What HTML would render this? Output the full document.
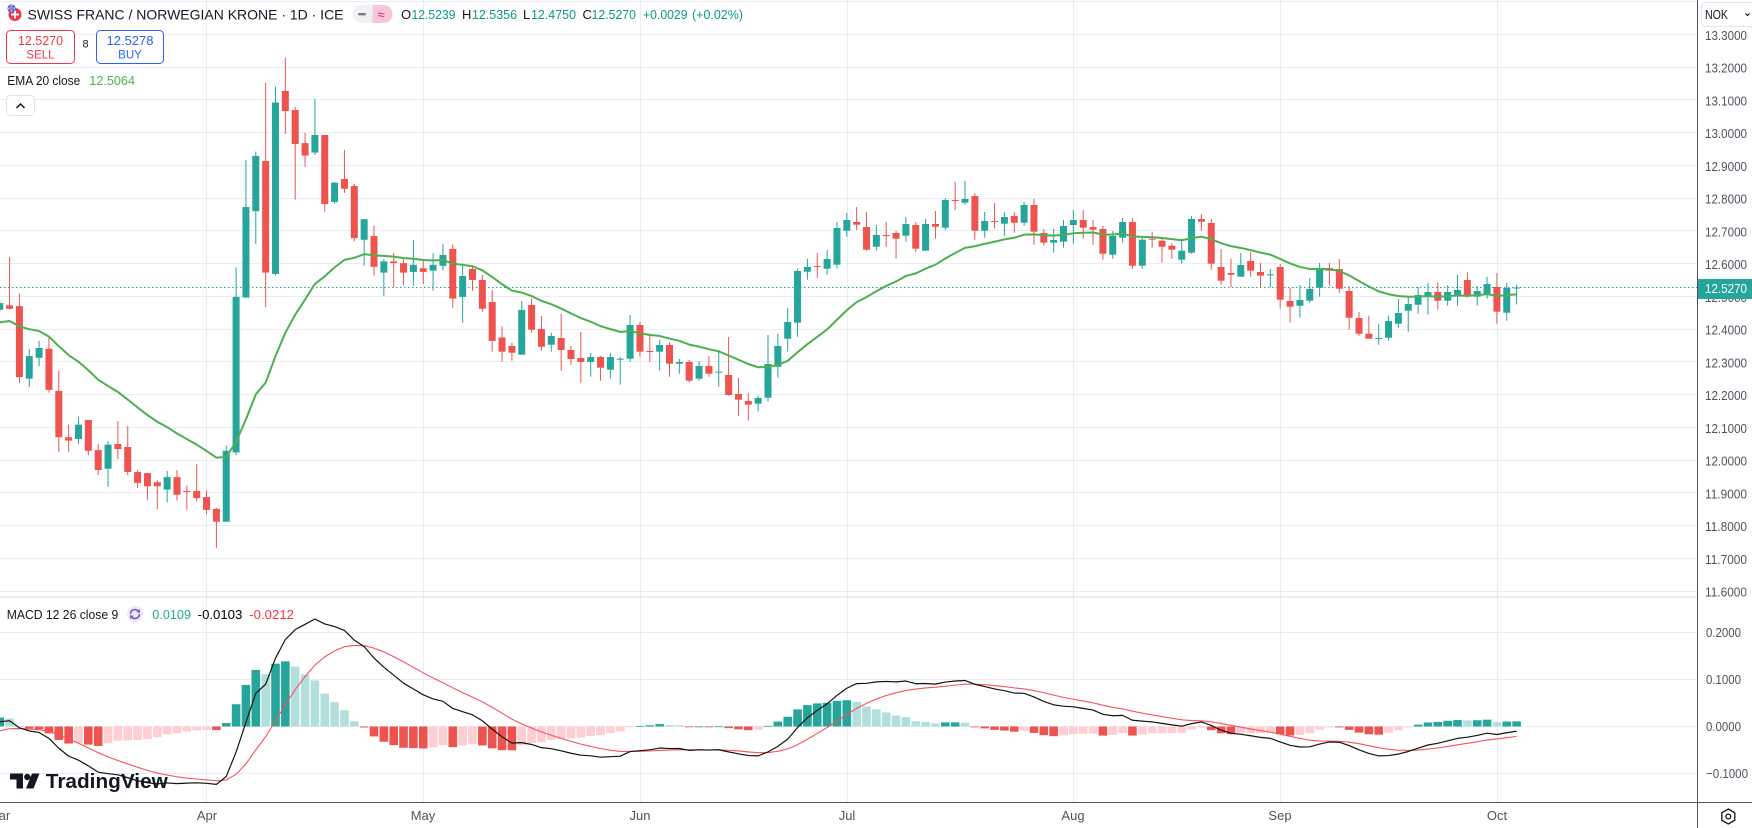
<!DOCTYPE html>
<html><head><meta charset="utf-8">
<style>
html,body{margin:0;padding:0;background:#fff;}
body{width:1752px;height:828px;overflow:hidden;}
svg{display:block;font-family:"Liberation Sans",Arial,sans-serif;}
</style></head><body>
<svg id="c" width="1752" height="828" viewBox="0 0 1752 828" xmlns="http://www.w3.org/2000/svg">
<rect width="1752" height="828" fill="#fff"/>
<g stroke="#e9edf3" stroke-width="1">
<line x1="0" x2="1697" y1="1.5" y2="1.5"/>
<line x1="0" x2="1697" y1="34.5" y2="34.5"/>
<line x1="0" x2="1697" y1="67.5" y2="67.5"/>
<line x1="0" x2="1697" y1="99.5" y2="99.5"/>
<line x1="0" x2="1697" y1="132.5" y2="132.5"/>
<line x1="0" x2="1697" y1="165.5" y2="165.5"/>
<line x1="0" x2="1697" y1="198.5" y2="198.5"/>
<line x1="0" x2="1697" y1="230.5" y2="230.5"/>
<line x1="0" x2="1697" y1="263.5" y2="263.5"/>
<line x1="0" x2="1697" y1="296.5" y2="296.5"/>
<line x1="0" x2="1697" y1="329.5" y2="329.5"/>
<line x1="0" x2="1697" y1="361.5" y2="361.5"/>
<line x1="0" x2="1697" y1="394.5" y2="394.5"/>
<line x1="0" x2="1697" y1="427.5" y2="427.5"/>
<line x1="0" x2="1697" y1="460.5" y2="460.5"/>
<line x1="0" x2="1697" y1="492.5" y2="492.5"/>
<line x1="0" x2="1697" y1="525.5" y2="525.5"/>
<line x1="0" x2="1697" y1="558.5" y2="558.5"/>
<line x1="0" x2="1697" y1="591.5" y2="591.5"/>
<line x1="0" x2="1697" y1="632.5" y2="632.5"/>
<line x1="0" x2="1697" y1="679.5" y2="679.5"/>
<line x1="0" x2="1697" y1="726.5" y2="726.5"/>
<line x1="0" x2="1697" y1="773.5" y2="773.5"/>
<line x1="206.5" x2="206.5" y1="0" y2="802"/>
<line x1="423.5" x2="423.5" y1="0" y2="802"/>
<line x1="640.5" x2="640.5" y1="0" y2="802"/>
<line x1="847.5" x2="847.5" y1="0" y2="802"/>
<line x1="1073.5" x2="1073.5" y1="0" y2="802"/>
<line x1="1280.5" x2="1280.5" y1="0" y2="802"/>
<line x1="1497.5" x2="1497.5" y1="0" y2="802"/>
</g>
<line x1="0" x2="1752" y1="597" y2="597" stroke="#e0e3eb" stroke-width="1.2"/>
<line x1="0" x2="1697" y1="287.5" y2="287.5" stroke="#26a69a" stroke-width="1" stroke-dasharray="1.5 2.5"/>
<g id="hist"></g>
<g id="candles"></g>
<path id="ema" fill="none" stroke="#4caf50" stroke-width="2" stroke-linejoin="round"/>
<path id="sig" fill="none" stroke="#f7525f" stroke-width="1.1" stroke-linejoin="round"/>
<path id="macd" fill="none" stroke="#131313" stroke-width="1.2" stroke-linejoin="round"/>

<!-- axes -->
<rect x="1698" y="0" width="54" height="828" fill="#fff"/>
<rect x="0" y="803" width="1752" height="25" fill="#fff"/>
<line x1="1697.5" x2="1697.5" y1="0" y2="828" stroke="#50535e" stroke-width="1"/>
<line x1="0" x2="1752" y1="802.5" y2="802.5" stroke="#50535e" stroke-width="1"/>
<g font-size="13" fill="#50535e">
<text x="1705" y="39.8" textLength="42" lengthAdjust="spacingAndGlyphs">13.3000</text>
<text x="1705" y="72.5" textLength="42" lengthAdjust="spacingAndGlyphs">13.2000</text>
<text x="1705" y="105.3" textLength="42" lengthAdjust="spacingAndGlyphs">13.1000</text>
<text x="1705" y="138" textLength="42" lengthAdjust="spacingAndGlyphs">13.0000</text>
<text x="1705" y="170.8" textLength="42" lengthAdjust="spacingAndGlyphs">12.9000</text>
<text x="1705" y="203.5" textLength="42" lengthAdjust="spacingAndGlyphs">12.8000</text>
<text x="1705" y="236.3" textLength="42" lengthAdjust="spacingAndGlyphs">12.7000</text>
<text x="1705" y="269" textLength="42" lengthAdjust="spacingAndGlyphs">12.6000</text>
<text x="1705" y="301.8" textLength="42" lengthAdjust="spacingAndGlyphs">12.5000</text>
<text x="1705" y="334.5" textLength="42" lengthAdjust="spacingAndGlyphs">12.4000</text>
<text x="1705" y="367.3" textLength="42" lengthAdjust="spacingAndGlyphs">12.3000</text>
<text x="1705" y="400" textLength="42" lengthAdjust="spacingAndGlyphs">12.2000</text>
<text x="1705" y="432.8" textLength="42" lengthAdjust="spacingAndGlyphs">12.1000</text>
<text x="1705" y="465.5" textLength="42" lengthAdjust="spacingAndGlyphs">12.0000</text>
<text x="1705" y="498.3" textLength="42" lengthAdjust="spacingAndGlyphs">11.9000</text>
<text x="1705" y="531" textLength="42" lengthAdjust="spacingAndGlyphs">11.8000</text>
<text x="1705" y="563.8" textLength="42" lengthAdjust="spacingAndGlyphs">11.7000</text>
<text x="1705" y="596.5" textLength="42" lengthAdjust="spacingAndGlyphs">11.6000</text>
<text x="1706" y="637" textLength="35" lengthAdjust="spacingAndGlyphs">0.2000</text>
<text x="1706" y="684" textLength="35" lengthAdjust="spacingAndGlyphs">0.1000</text>
<text x="1706" y="731" textLength="35" lengthAdjust="spacingAndGlyphs">0.0000</text>
<text x="1706" y="778" textLength="42" lengthAdjust="spacingAndGlyphs">−0.1000</text>
</g>
<g font-size="13" fill="#50535e" text-anchor="middle">
<text x="-1" y="820">Mar</text>
<text x="207" y="820">Apr</text>
<text x="423" y="820">May</text>
<text x="640" y="820">Jun</text>
<text x="847" y="820">Jul</text>
<text x="1073" y="820">Aug</text>
<text x="1280" y="820">Sep</text>
<text x="1497" y="820">Oct</text>
</g>
<!-- gear -->
<g transform="translate(1728.3,816.5)" fill="none" stroke="#131722" stroke-width="1.3">
<polygon points="0,-7.5 6.5,-3.75 6.5,3.75 0,7.5 -6.5,3.75 -6.5,-3.75"/>
<circle r="2.4"/>
</g>
<!-- last price tag -->
<rect x="1698" y="279" width="54" height="20" fill="#26a69a"/>
<text x="1705" y="292.8" font-size="13" fill="#fff" textLength="42" lengthAdjust="spacingAndGlyphs">12.5270</text>
<!-- NOK -->
<rect x="1698" y="0" width="54" height="29.5" fill="#fff"/>
<rect x="1701.5" y="2.5" width="56" height="24" rx="4" fill="#fff" stroke="#e0e3eb"/>
<text x="1705" y="19.2" font-size="13" fill="#131722" textLength="23" lengthAdjust="spacingAndGlyphs">NOK</text>
<polyline points="1745.5,13.5 1747.5,15.5 1749.5,13.5" fill="none" stroke="#131722" stroke-width="1.2"/>

<!-- top legend -->
<circle cx="15" cy="14.5" r="6.5" fill="#f23645"/>
<rect x="14" y="10.5" width="2" height="8" fill="#fff"/>
<rect x="11" y="13.5" width="8" height="2" fill="#fff"/>
<circle cx="11.5" cy="8.5" r="4" fill="#2962ff"/>
<path d="M8 8.5 h7 M11.5 5 v7" stroke="#fff" stroke-width="1.4"/>
<path d="M8.5 8.5 h6 M11.5 5.5 v6" stroke="#f23645" stroke-width="0.7"/>
<text x="27.5" y="19.3" font-size="14" fill="#131722" textLength="316" lengthAdjust="spacingAndGlyphs">SWISS FRANC / NORWEGIAN KRONE · 1D · ICE</text>
<rect x="352.5" y="5" width="40" height="18" rx="9" fill="#f0f1f4"/>
<path d="M372.5 5 h11 a9 9 0 0 1 0 18 h-11 z" fill="#f8c6d9"/>
<rect x="358" y="13" width="8" height="2.4" rx="1" fill="#787b86"/>
<text x="377.5" y="19" font-size="13" fill="#e91e63">≈</text>
<g font-size="13">
<text x="401" y="19" fill="#131722">O</text>
<text x="411.5" y="19" fill="#089981" textLength="44" lengthAdjust="spacingAndGlyphs">12.5239</text>
<text x="462" y="19" fill="#131722">H</text>
<text x="472" y="19" fill="#089981" textLength="45" lengthAdjust="spacingAndGlyphs">12.5356</text>
<text x="523" y="19" fill="#131722">L</text>
<text x="531" y="19" fill="#089981" textLength="45" lengthAdjust="spacingAndGlyphs">12.4750</text>
<text x="582.5" y="19" fill="#131722">C</text>
<text x="591.5" y="19" fill="#089981" textLength="44.5" lengthAdjust="spacingAndGlyphs">12.5270</text>
<text x="643" y="19" fill="#089981" textLength="44.5" lengthAdjust="spacingAndGlyphs">+0.0029</text>
<text x="692" y="19" fill="#089981" textLength="51" lengthAdjust="spacingAndGlyphs">(+0.02%)</text>
</g>
<rect x="6.5" y="30.5" width="68" height="33" rx="4" fill="#fff" stroke="#f23645"/>
<text x="40.5" y="45" font-size="13" fill="#f23645" text-anchor="middle" textLength="45" lengthAdjust="spacingAndGlyphs">12.5270</text>
<text x="40.5" y="58.3" font-size="11.5" fill="#f23645" text-anchor="middle">SELL</text>
<text x="85.5" y="47.5" font-size="11" fill="#131722" text-anchor="middle">8</text>
<rect x="96.5" y="30.5" width="67" height="33" rx="4" fill="#fff" stroke="#2962ff"/>
<text x="130" y="45" font-size="13" fill="#2962ff" text-anchor="middle" textLength="47" lengthAdjust="spacingAndGlyphs">12.5278</text>
<text x="130" y="58.3" font-size="11.5" fill="#2962ff" text-anchor="middle">BUY</text>
<text x="7.3" y="85" font-size="13" fill="#131722" textLength="73" lengthAdjust="spacingAndGlyphs">EMA 20 close</text>
<text x="89.3" y="85" font-size="13" fill="#4caf50" textLength="45.7" lengthAdjust="spacingAndGlyphs">12.5064</text>
<rect x="6.5" y="95.5" width="28" height="20" rx="4" fill="#fff" stroke="#e0e3eb"/>
<polyline points="16.5,108 20.5,104 24.5,108" fill="none" stroke="#131722" stroke-width="1.5"/>

<!-- MACD legend -->
<text x="6.7" y="619" font-size="13" fill="#131722" textLength="111.6" lengthAdjust="spacingAndGlyphs">MACD 12 26 close 9</text>
<circle cx="135" cy="614" r="8" fill="#ede7f6"/>
<path d="M130.5 614 a4.5 4.5 0 0 1 8.2 -2.5 M139.5 614 a4.5 4.5 0 0 1 -8.2 2.5" fill="none" stroke="#7e57c2" stroke-width="1.6"/>
<polygon points="139.8,609 140,613 136.3,612" fill="#7e57c2"/>
<polygon points="130.2,619 130,615 133.7,616" fill="#7e57c2"/>
<text x="152.3" y="619" font-size="13" fill="#22ab94" textLength="38.7" lengthAdjust="spacingAndGlyphs">0.0109</text>
<text x="197.7" y="619" font-size="13" fill="#000" textLength="44.6" lengthAdjust="spacingAndGlyphs">-0.0103</text>
<text x="249.3" y="619" font-size="13" fill="#f23645" textLength="44.7" lengthAdjust="spacingAndGlyphs">-0.0212</text>

<!-- TradingView logo -->
<g fill="#131722">
<path d="M10 773.5 h13 v15 h-6.5 v-9 h-6.5 z"/>
<circle cx="27.3" cy="777" r="3.2"/>
<polygon points="32,773.5 39.5,773.5 33.5,788.5 26,788.5"/>
<text x="45.8" y="788" font-size="20" font-weight="bold" textLength="122" lengthAdjust="spacingAndGlyphs">TradingView</text>
</g>
</svg>
<script>
var D=[[309.8,300.3,312.1,303.0],[305.4,257.0,309.5,308.8],[306.1,293.6,383.1,377.1],[378.7,348.7,387.2,356.1],[357.8,340.9,366.2,348.0],[348.7,337.5,392.6,389.9],[390.9,370.6,451.8,437.2],[437.2,424.7,451.8,440.6],[438.9,416.9,444.0,424.7],[420.0,420.0,455.2,450.8],
[450.1,444.0,475.1,470.0],[468.7,441.0,486.9,444.7],[444.0,421.0,459.2,449.1],[447.0,426.1,475.1,472.0],[472.0,470.0,487.9,482.9],[473.1,473.1,499.8,486.3],[482.2,480.2,509.2,486.3],[489.6,471.0,502.5,477.1],[477.1,470.0,500.5,494.7],[491.0,485.6,509.9,491.7],
[491.0,464.3,501.5,498.1],[497.1,490.3,514.3,509.9],[508.9,507.9,547.8,521.7],[521.7,445.7,521.7,450.8],[452.4,267.2,455.2,296.9],[297.6,160.0,297.6,207.0],[211.1,151.6,243.9,156.0],[161.0,82.9,307.1,272.6],[273.9,86.7,275.6,102.5],[91.0,57.6,134.0,111.0],
[110.0,106.9,199.6,144.1],[143.1,133.0,166.8,155.6],[152.6,99.2,154.9,135.0],[135.0,135.0,211.7,204.0],[201.9,182.0,204.0,182.7],[179.0,149.9,192.8,188.8],[186.0,183.7,241.2,238.1],[239.8,219.2,265.8,219.2],[236.1,225.3,275.6,266.8],[272.6,259.1,295.9,261.4],
[261.4,253.0,286.8,263.1],[263.1,259.7,285.1,272.6],[271.9,240.1,285.8,264.8],[268.2,259.1,284.1,271.9],[270.6,253.0,290.8,264.8],[265.8,244.2,270.6,255.0],[248.9,244.5,307.8,298.6],[296.9,263.8,322.6,276.0],[268.9,265.5,290.8,280.0],[280.0,275.0,312.1,308.8],
[302.0,290.2,351.7,340.9],[337.5,326.3,361.8,351.7],[346.0,342.7,360.7,352.7],[354.7,301.0,354.7,310.0],[305.0,298.3,332.7,329.7],[329.0,316.0,350.7,346.7],[344.7,332.7,351.7,336.0],[338.0,314.0,370.7,350.0],[350.0,346.0,364.7,359.0],[358.0,332.0,382.7,362.0],
[362.0,353.0,376.7,357.0],[357.0,356.0,380.7,367.7],[369.7,353.0,378.7,357.0],[359.7,357.0,384.7,358.7],[358.7,315.0,362.0,325.0],[325.0,322.0,356.7,351.7],[351.0,333.7,362.0,352.0],[351.7,340.0,370.7,345.0],[345.0,342.3,376.7,363.7],[363.7,359.0,373.7,362.0],
[362.0,360.0,382.7,380.7],[378.7,361.0,380.7,366.0],[366.0,356.0,376.7,373.7],[372.7,350.0,386.7,371.7],[375.0,337.0,395.7,395.0],[394.0,378.0,415.7,399.7],[401.0,393.0,420.7,404.7],[403.7,395.7,411.7,398.0],[397.7,335.0,401.7,364.0],[366.7,333.7,377.7,346.0],
[338.7,308.0,351.7,322.0],[322.7,268.7,336.7,271.0],[271.7,258.7,279.7,267.0],[266.0,253.0,277.7,267.0],[268.7,250.0,274.7,259.0],[264.7,222.0,268.7,228.0],[230.7,213.0,236.7,220.0],[222.0,207.0,230.0,224.7],[227.0,212.0,250.7,249.7],[246.7,225.0,250.7,235.0],
[235.0,222.0,246.7,236.0],[233.0,231.0,258.7,238.7],[235.7,217.0,241.7,224.0],[225.0,222.0,251.7,248.7],[250.7,219.0,250.7,224.0],[224.0,211.0,238.7,226.7],[227.7,198.3,230.0,200.0],[200.0,182.0,210.0,200.7],[202.7,181.0,204.7,199.0],[196.0,193.0,239.7,230.7],
[230.7,212.0,237.7,221.0],[221.0,203.0,228.7,221.7],[223.7,212.0,235.7,217.0],[216.0,212.0,232.7,222.7],[222.7,202.0,225.7,205.0],[205.0,199.0,244.7,231.7],[233.0,229.0,245.7,242.7],[242.7,229.0,252.7,240.0],[241.7,220.0,247.7,226.0],[225.0,210.0,243.7,220.0],
[220.0,210.0,238.7,227.7],[227.0,220.0,244.7,229.7],[229.0,226.0,259.7,253.7],[254.7,231.0,258.7,236.0],[237.7,218.0,242.7,222.0],[222.0,218.0,268.7,265.7],[265.7,236.7,268.7,239.7],[238.7,231.7,247.7,239.7],[240.7,237.7,262.7,246.7],[245.7,243.3,259.0,249.7],
[259.7,238.7,263.7,250.7],[252.7,216.0,253.7,219.0],[219.0,214.0,230.7,221.7],[223.0,219.0,269.7,263.7],[267.0,249.0,284.7,280.7],[273.0,258.7,287.3,274.7],[276.7,253.0,276.7,265.0],[261.0,252.0,276.7,270.7],[272.0,263.0,286.7,275.7],[275.3,269.0,287.3,274.3],
[267.0,264.0,308.7,299.7],[301.0,288.0,322.7,306.7],[305.7,285.0,317.7,300.0],[300.7,278.0,302.7,289.0],[287.7,263.0,296.7,268.0],[268.0,263.0,285.7,270.7],[269.0,259.0,292.7,288.7],[291.0,286.0,329.7,317.7],[318.0,312.0,335.7,333.7],[333.7,315.7,338.7,338.7],
[339.0,323.7,344.7,338.0],[337.7,315.7,340.7,321.0],[323.7,299.0,327.7,313.0],[310.7,296.0,331.7,304.0],[304.7,287.0,313.7,295.0],[295.7,283.0,314.7,292.0],[292.0,282.7,309.7,300.7],[300.7,285.0,305.7,292.0],[295.7,275.0,305.7,290.0],[280.0,272.0,297.7,296.7],
[296.7,286.0,305.7,291.0],[294.0,277.0,298.7,284.0],[287.0,273.0,323.7,311.7],[312.7,283.0,320.7,288.0],[288.5,284.7,304.5,287.5]];
(function(){
var cs='',hs='',ep='',mp='',sp='';
var e12=320.7,e26=324.0,e20=322.3,s=-0.009,prevH=0.015;
function MY(m){return (726.5-m*470).toFixed(2);}
for(var i=0;i<D.length;i++){
 var d=D[i],o=d[0],h=d[1],l=d[2],c=d[3],x=9.85*i-0.3;
 var down=c>o;
 var col=down?'#ef5350':'#26a69a';
 var top=Math.min(o,c),bh=Math.max(Math.abs(c-o),1);
 cs+='<rect x="'+(x-0.5).toFixed(2)+'" y="'+h+'" width="1" height="'+(l-h).toFixed(2)+'" fill="'+col+'"/>';
 cs+='<rect x="'+(x-3.5).toFixed(2)+'" y="'+top+'" width="7" height="'+bh.toFixed(2)+'" fill="'+col+'"/>';
 if(i>0){e12+=(c-e12)*2/13;e26+=(c-e26)*2/27;e20+=(c-e20)*2/21;}
 var m=(e26-e12)/327.5;
 if(i>0)s+=(m-s)*0.2;
 var hv=m-s;
 var hc;
 if(hv>=0)hc=(hv>prevH)?'#26a69a':'#b2dfdb';else hc=(hv>prevH)?'#ffcdd2':'#ef5350';
 prevH=hv;
 var y0=726.5,y1=726.5-hv*470;
 hs+='<rect x="'+(x-4.3).toFixed(2)+'" y="'+Math.min(y0,y1).toFixed(2)+'" width="8.6" height="'+Math.max(Math.abs(y1-y0),0.8).toFixed(2)+'" fill="'+hc+'"/>';
 ep+=(i?'L':'M')+x.toFixed(2)+' '+e20.toFixed(2);
 mp+=(i?'L':'M')+x.toFixed(2)+' '+MY(m);
 sp+=(i?'L':'M')+x.toFixed(2)+' '+MY(s);
}
document.getElementById('candles').innerHTML=cs;
document.getElementById('hist').innerHTML=hs;
document.getElementById('ema').setAttribute('d',ep);
document.getElementById('macd').setAttribute('d',mp);
document.getElementById('sig').setAttribute('d',sp);
})();
</script>
</body></html>
